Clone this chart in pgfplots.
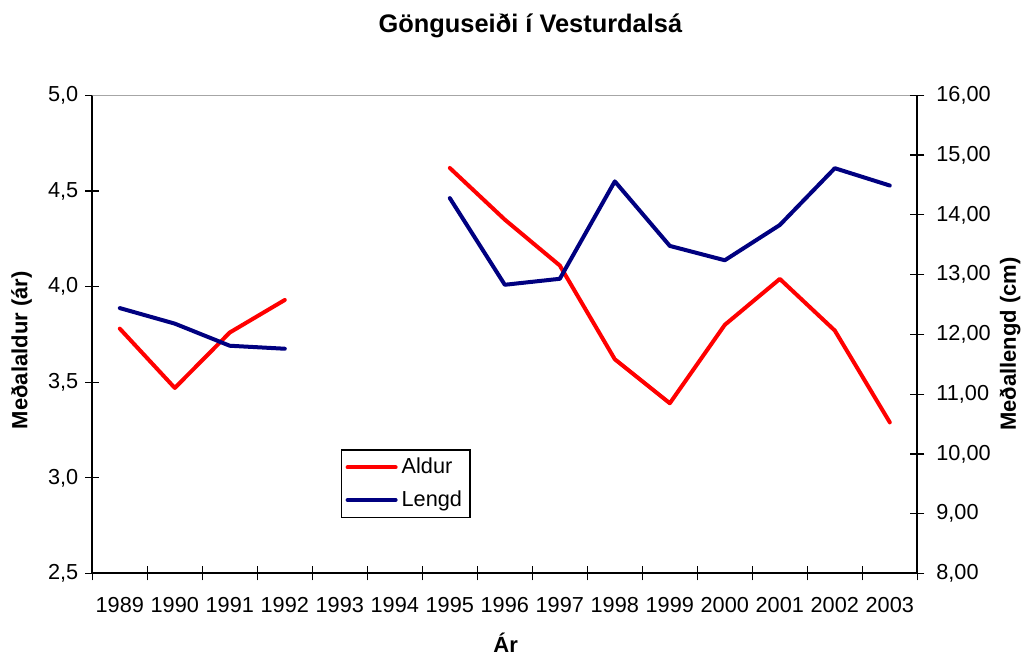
\documentclass[border=0pt]{standalone}
\usepackage{fontspec}
\setmainfont{Liberation Sans}
\usepackage{pgfplots}
\pgfplotsset{compat=1.18}
\usepackage{pgfplotstable}

\definecolor{navyline}{RGB}{0,0,128}
\definecolor{redline}{RGB}{255,0,0}

\pgfplotstableread{
idx aldur lengd
0  3.78 12.44
1  3.47 12.18
2  3.76 11.81
3  3.93 11.76
4  nan  nan
5  nan  nan
6  4.62 14.28
7  4.35 12.83
8  4.11 12.93
9  3.62 14.56
10 3.39 13.48
11 3.80 13.24
12 4.04 13.83
13 3.77 14.78
14 3.29 14.49
}\data

\pgfplotsset{
  common/.style={
    at={(46.15pt,41.25pt)}, anchor=south west,
    scale only axis, width=412.5pt, height=239.1pt,
    xmin=-0.5, xmax=14.5,
    unbounded coords=jump,
    tick align=center,
    major tick length=7pt, minor tick length=7pt,
    every tick/.style={black, line width=0.6pt},
    tick label style={font=\fontsize{10.85}{13}\selectfont},
    /pgf/number format/assume math mode=true,
  },
}

\begin{document}
\begin{tikzpicture}[x=1pt,y=1pt]
\useasboundingbox (0,0) rectangle (515.5,328);
\begin{axis}[
  common,
  ymin=2.5, ymax=5,
  axis x line*=bottom, axis y line*=left,
  axis line style={black, line width=1pt},
  xtick={0,...,14},
  xticklabels={1989,1990,1991,1992,1993,1994,1995,1996,1997,1998,1999,2000,2001,2002,2003},
  xticklabel style={yshift=-5pt},
  major x tick style={draw=none},
  minor xtick={-0.5,0.5,...,14.5},
  ytick={2.5,3,3.5,4,4.5,5},
  yticklabel style={/pgf/number format/.cd, fixed, fixed zerofill, precision=1, use comma},
  title={Gönguseiði í Vesturdalsá},
  every axis title/.style={at={(axis description cs:0.531,1.132)}, anchor=base, font=\fontsize{12.7}{15}\selectfont\bfseries},
  xlabel={Ár},
  every axis x label/.style={at={(axis description cs:0.501,-0.165)}, anchor=base, font=\fontsize{11}{13}\selectfont\bfseries},
  ylabel={Meðalaldur (ár)},
  every axis y label/.style={at={(axis description cs:-0.0856,0.467)}, rotate=90, anchor=center, font=\fontsize{11}{13}\selectfont\bfseries},
]
\draw[gray!70, line width=0.8pt] (rel axis cs:0,1) -- (rel axis cs:1,1);
\addplot[redline, line width=2pt, line join=round, line cap=round] table[x=idx, y=aldur] {\data};
\end{axis}
\begin{axis}[
  common,
  ymin=8, ymax=16,
  axis x line=none, axis y line*=right,
  axis line style={black, line width=1pt},
  ytick={8,9,...,16},
  yticklabel style={xshift=2.5pt, /pgf/number format/.cd, fixed, fixed zerofill, precision=2, use comma},
  ylabel={Meðallengd (cm)},
  every axis y label/.style={at={(axis description cs:1.1124,0.48)}, rotate=90, anchor=center, font=\fontsize{11}{13}\selectfont\bfseries},
  legend style={at={(axis description cs:0.3015,0.2597)}, anchor=north west, draw=black, line width=0.6pt,
    font=\fontsize{10.85}{13}\selectfont, inner sep=2pt, row sep=3pt},
  legend cell align=left,
  legend image code/.code={\draw[#1] (0pt,0pt) -- (24pt,0pt);},
]
\addlegendimage{redline, line width=2pt, line cap=round}
\addlegendentry{Aldur}
\addplot[navyline, line width=2pt, line join=round, line cap=round] table[x=idx, y=lengd] {\data};
\addlegendentry{Lengd}
\end{axis}
\end{tikzpicture}
\end{document}
